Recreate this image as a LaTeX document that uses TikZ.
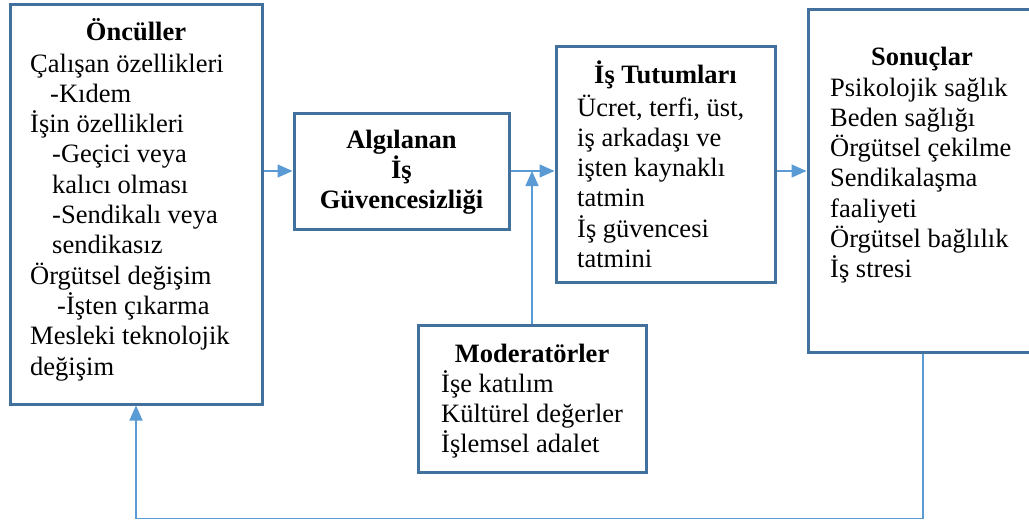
\documentclass[tikz,border=0pt]{standalone}
\usepackage{fontspec}
\setmainfont{Liberation Serif}
\usetikzlibrary{arrows.meta}
\definecolor{boxblue}{HTML}{41719C}
\definecolor{linkblue}{HTML}{5B9BD5}
\tikzset{
  box/.style={draw=boxblue, line width=3pt, inner sep=0pt},
  head/.style={font=\fontsize{26.5}{30.3}\selectfont\bfseries, inner sep=0pt, align=center},
  txt/.style={font=\fontsize{26.5}{30.3}\selectfont, inner sep=0pt, align=left},
  link/.style={draw=linkblue, line width=1.5pt, -{Triangle[length=15pt,width=13pt]}},
}
\begin{document}
\begin{tikzpicture}[x=1pt,y=-1pt]
\useasboundingbox (0,0) rectangle (1029,522);
\node[box, minimum width=252pt, minimum height=400pt] (onc) at (136,204) {};
\node[box, minimum width=215pt, minimum height=116pt] (alg) at (401.5,171) {};
\node[box, minimum width=219pt, minimum height=236pt] (tut) at (665.5,164) {};
\node[box, minimum width=230pt, minimum height=343pt] (son) at (923,180.5) {};
\node[box, minimum width=228pt, minimum height=147pt] (mod) at (532,398.5) {};
\node[head, anchor=base] (onch) at (136,40) {Öncüller};
\node[txt, anchor=base west] (oncl) at (30,375) {Çalışan özellikleri\\\hspace*{20pt}-Kıdem\\İşin özellikleri\\\hspace*{22pt}-Geçici veya\\\hspace*{22pt}kalıcı olması\\\hspace*{22pt}-Sendikalı veya\\\hspace*{22pt}sendikasız\\Örgütsel değişim\\\hspace*{27pt}-İşten çıkarma\\Mesleki teknolojik\\değişim};
\node[head, anchor=base] (algh) at (401.5,208.6) {Algılanan\\İş\\Güvencesizliği};
\node[head, anchor=base] (tuth) at (665.5,83) {İş Tutumları};
\node[txt, anchor=base west] (tutl) at (577,267.5) {Ücret, terfi, üst,\\iş arkadaşı ve\\işten kaynaklı\\tatmin\\İş güvencesi\\tatmini};
\node[head, anchor=base] (sonh) at (922,65) {Sonuçlar};
\node[txt, anchor=base west] (sonl) at (830,277.8) {Psikolojik sağlık\\Beden sağlığı\\Örgütsel çekilme\\Sendikalaşma\\faaliyeti\\Örgütsel bağlılık\\İş stresi};
\node[head, anchor=base] (modh) at (532,362) {Moderatörler};
\node[txt, anchor=base west] (modl) at (441,452.6) {İşe katılım\\Kültürel değerler\\İşlemsel adalet};
\draw[link] (onc.east |- alg.west) -- (alg.west);
\draw[link] (alg.east) -- (alg.east -| tut.west);
\draw[link] (mod.north) -- (mod.north |- alg.east);
\draw[link] (tut.east |- alg.east) -- (alg.east -| son.west);
\draw[link] (son.south) -- ++(0,165) -| (onc.south);
\end{tikzpicture}
\end{document}
